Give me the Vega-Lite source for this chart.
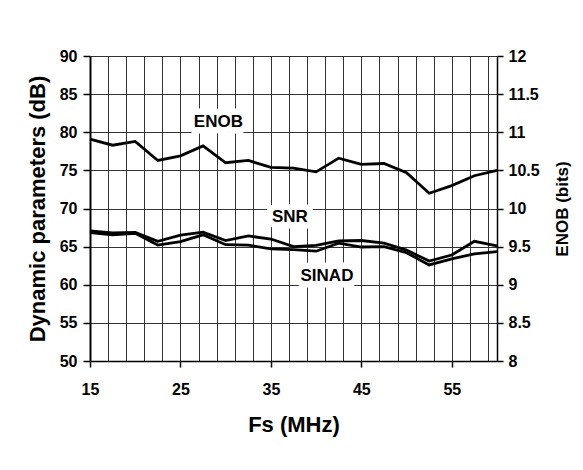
{
  "$schema": "https://vega.github.io/schema/vega-lite/v6.json",
  "width": 407,
  "height": 305,
  "autosize": {"type": "none"},
  "padding": {"left": 90, "top": 56, "right": 86, "bottom": 109},
  "background": "white",
  "config": {
    "view": {"stroke": null},
    "font": "Liberation Sans",
    "axis": {
      "labelFont": "Liberation Sans",
      "titleFont": "Liberation Sans",
      "labelFontWeight": "bold",
      "titleFontWeight": "bold",
      "labelColor": "black",
      "titleColor": "black",
      "domainColor": "black",
      "tickColor": "black",
      "gridColor": "#333",
      "gridOpacity": 1,
      "gridWidth": 1,
      "labelFontSize": 15,
      "labelFlush": false,
      "labelOverlap": false
    }
  },
  "datasets": {
    "db": [
      {"fs": 15, "series": "SNR", "value": 67.05},
      {"fs": 17.5, "series": "SNR", "value": 66.8},
      {"fs": 20, "series": "SNR", "value": 66.85},
      {"fs": 22.5, "series": "SNR", "value": 65.7},
      {"fs": 25, "series": "SNR", "value": 66.5},
      {"fs": 27.5, "series": "SNR", "value": 66.9},
      {"fs": 30, "series": "SNR", "value": 65.8},
      {"fs": 32.5, "series": "SNR", "value": 66.4},
      {"fs": 35, "series": "SNR", "value": 66.0},
      {"fs": 37.5, "series": "SNR", "value": 65.0},
      {"fs": 40, "series": "SNR", "value": 65.15},
      {"fs": 42.5, "series": "SNR", "value": 65.75},
      {"fs": 45, "series": "SNR", "value": 65.8},
      {"fs": 47.5, "series": "SNR", "value": 65.45},
      {"fs": 50, "series": "SNR", "value": 64.55},
      {"fs": 52.5, "series": "SNR", "value": 63.1},
      {"fs": 55, "series": "SNR", "value": 63.9},
      {"fs": 57.5, "series": "SNR", "value": 65.7},
      {"fs": 60, "series": "SNR", "value": 65.1},
      {"fs": 15, "series": "SINAD", "value": 66.85},
      {"fs": 17.5, "series": "SINAD", "value": 66.55},
      {"fs": 20, "series": "SINAD", "value": 66.75},
      {"fs": 22.5, "series": "SINAD", "value": 65.2},
      {"fs": 25, "series": "SINAD", "value": 65.65},
      {"fs": 27.5, "series": "SINAD", "value": 66.55},
      {"fs": 30, "series": "SINAD", "value": 65.25},
      {"fs": 32.5, "series": "SINAD", "value": 65.2},
      {"fs": 35, "series": "SINAD", "value": 64.7},
      {"fs": 37.5, "series": "SINAD", "value": 64.6},
      {"fs": 40, "series": "SINAD", "value": 64.4},
      {"fs": 42.5, "series": "SINAD", "value": 65.45},
      {"fs": 45, "series": "SINAD", "value": 64.95},
      {"fs": 47.5, "series": "SINAD", "value": 65.0},
      {"fs": 50, "series": "SINAD", "value": 64.2},
      {"fs": 52.5, "series": "SINAD", "value": 62.6},
      {"fs": 55, "series": "SINAD", "value": 63.4},
      {"fs": 57.5, "series": "SINAD", "value": 64.05},
      {"fs": 60, "series": "SINAD", "value": 64.35}
    ],
    "enob": [
      {"fs": 15, "bits": 10.91},
      {"fs": 17.5, "bits": 10.83},
      {"fs": 20, "bits": 10.88},
      {"fs": 22.5, "bits": 10.63},
      {"fs": 25, "bits": 10.69},
      {"fs": 27.5, "bits": 10.82},
      {"fs": 30, "bits": 10.6},
      {"fs": 32.5, "bits": 10.63},
      {"fs": 35, "bits": 10.54},
      {"fs": 37.5, "bits": 10.53},
      {"fs": 40, "bits": 10.48},
      {"fs": 42.5, "bits": 10.66},
      {"fs": 45, "bits": 10.58},
      {"fs": 47.5, "bits": 10.59},
      {"fs": 50, "bits": 10.47},
      {"fs": 52.5, "bits": 10.2},
      {"fs": 55, "bits": 10.3},
      {"fs": 57.5, "bits": 10.43},
      {"fs": 60, "bits": 10.5}
    ],
    "labels": [
      {"fs": 29.2, "value": 81.3, "text": "ENOB"},
      {"fs": 37.1, "value": 68.9, "text": "SNR"},
      {"fs": 41.2, "value": 61.2, "text": "SINAD"}
    ]
  },
  "encoding": {
    "x": {
      "field": "fs",
      "type": "quantitative",
      "scale": {"domain": [15, 60], "nice": false, "zero": false},
      "axis": {
        "title": "Fs (MHz)",
        "titleFontSize": 22,
        "titlePadding": 17,
        "values": [15, 17, 19, 21, 23, 25, 27, 29, 31, 33, 35, 37, 39, 41, 43, 45, 47, 49, 51, 53, 55, 57, 59],
        "labelExpr": "(datum.value - 15) % 10 == 0 ? datum.label : ''",
        "tickSize": 6,
        "tickWidth": 1.5,
        "tickColor": {"condition": {"test": "(datum.value - 15) % 10 == 0", "value": "black"}, "value": "transparent"},
        "labelPadding": 14,
        "labelFontSize": 16,
        "domainWidth": 1.5,
        "grid": true
      }
    }
  },
  "layer": [
    {
      "data": {"name": "db"},
      "mark": {"type": "line", "color": "black", "strokeWidth": 2.8},
      "encoding": {
        "y": {
          "field": "value",
          "type": "quantitative",
          "scale": {"domain": [50, 90], "nice": false, "zero": false},
          "axis": {
            "title": "Dynamic parameters (dB)",
            "titleFontSize": 22,
            "titlePadding": 10,
            "values": [50, 55, 60, 65, 70, 75, 80, 85, 90],
            "tickSize": 7,
            "tickWidth": 1.5,
            "labelPadding": 6,
            "labelFontSize": 16,
            "domainWidth": 2,
            "grid": true
          }
        },
        "detail": {"field": "series", "type": "nominal"}
      }
    },
    {
      "data": {"name": "labels"},
      "mark": {"type": "text", "fontSize": 17, "fontWeight": "bold", "color": "white", "stroke": "white", "strokeWidth": 13, "strokeJoin": "round", "align": "center", "baseline": "middle"},
      "encoding": {
        "y": {"field": "value", "type": "quantitative", "scale": {"domain": [50, 90], "nice": false, "zero": false}, "axis": null},
        "text": {"field": "text", "type": "nominal"}
      }
    },
    {
      "data": {"name": "labels"},
      "mark": {"type": "text", "fontSize": 17, "fontWeight": "bold", "color": "black", "align": "center", "baseline": "middle"},
      "encoding": {
        "y": {"field": "value", "type": "quantitative", "scale": {"domain": [50, 90], "nice": false, "zero": false}, "axis": null},
        "text": {"field": "text", "type": "nominal"}
      }
    },
    {
      "data": {"name": "enob"},
      "mark": {"type": "line", "color": "black", "strokeWidth": 2.8},
      "encoding": {
        "y": {
          "field": "bits",
          "type": "quantitative",
          "scale": {"domain": [8, 12], "nice": false, "zero": false},
          "axis": {
            "orient": "right",
            "title": "ENOB (bits)",
            "titleFontSize": 17,
            "titleAngle": 270,
            "titleBaseline": "top",
            "titlePadding": 15,
            "values": [8, 8.5, 9, 9.5, 10, 10.5, 11, 11.5, 12],
            "format": "~g",
            "tickSize": 6,
            "tickWidth": 1.5,
            "labelPadding": 5,
            "labelFontSize": 16,
            "domainWidth": 1.5,
            "grid": false
          }
        }
      }
    }
  ],
  "resolve": {"scale": {"y": "independent"}}
}
